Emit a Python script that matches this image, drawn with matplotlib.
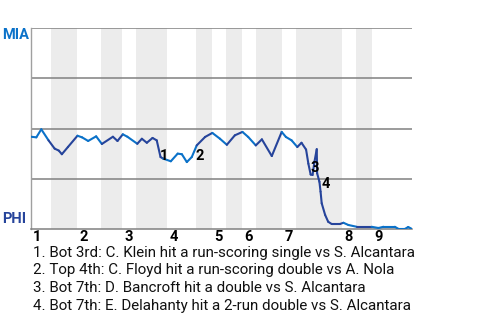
import matplotlib
matplotlib.use('Agg')
import matplotlib.pyplot as plt
import matplotlib.transforms as mtransforms

# game progress (0-100) and MIA win probability (%)
progress = [0, 1.4, 2.7, 4.6, 6.2, 7.3, 8.1, 9.7, 12.2, 13.4, 15.0, 17.1, 18.6, 21.5,
            22.7, 24.1, 25.3, 27.9, 29.1, 30.4, 31.9, 33.0, 34.0, 34.7, 36.7, 38.5,
            39.6, 40.9, 42.2, 43.5, 45.7, 47.6, 49.6, 51.4, 53.5, 55.5, 57.0, 59.0,
            60.6, 63.2, 65.8, 66.9, 68.4, 69.9, 71.0, 72.2, 72.8, 73.4, 73.9, 74.4,
            75.0, 75.1, 75.7, 76.0, 76.3, 77.2, 78.0, 78.9, 81.1, 82.0, 83.3, 85.5,
            89.4, 91.2, 92.5, 95.5, 96.4, 98.2, 99.0, 99.9]
mia_wp = [45.9, 45.6, 49.6, 44.1, 40.0, 39.0, 37.2, 40.8, 46.4, 45.6, 43.8, 46.1, 42.3, 45.9,
          43.8, 47.1, 45.9, 42.4, 44.9, 42.9, 45.3, 44.1, 35.8, 35.0, 33.7, 37.5,
          37.2, 33.3, 35.8, 41.6, 45.8, 47.8, 44.9, 41.9, 46.6, 48.3, 45.8, 41.6,
          44.6, 36.3, 48.3, 45.8, 44.1, 40.8, 42.9, 39.5, 32.5, 27.1, 26.9, 33.5,
          39.7, 27.7, 23.5, 18.6, 12.8, 7.0, 3.6, 2.5, 2.5, 3.1, 2.0, 1.1,
          1.1, 0.5, 1.1, 1.1, 0.1, 0.1, 1.0, 0.1]

# inning starts and bottom-half spans (in game progress)
inning_start = [0, 12.1, 23.9, 35.7, 47.5, 55.4, 65.9, 81.6, 89.5]
inning_labels = ['1', '2', '3', '4', '5', '6', '7', '8', '9']
bottom_halves = [(5.2, 12.1), (18.4, 23.9), (27.6, 35.7), (43.3, 47.5),
                 (51.2, 55.4), (59.1, 65.9), (69.6, 81.6), (85.3, 89.5)]

# key events
event_x = [34.9, 44.2, 74.4, 77.3]
event_y = [36.3, 36.3, 30.3, 22.5]
event_text = [
    '1. Bot 3rd: C. Klein hit a run-scoring single vs S. Alcantara',
    '2. Top 4th: C. Floyd hit a run-scoring double vs A. Nola',
    '3. Bot 7th: D. Bancroft hit a double vs S. Alcantara',
    '4. Bot 7th: E. Delahanty hit a 2-run double vs S. Alcantara',
]

mia_color = '#0b72c9'
phi_color = '#26449b'

plt.rcParams['font.family'] = ['Roboto', 'DejaVu Sans']

fig = plt.figure(figsize=(4.8, 3.2), dpi=100)
ax = fig.add_axes([31 / 480, 91 / 320, 381 / 480, 201 / 320])
ax.set_xlim(0, 100)
ax.set_ylim(0, 100)

# shaded bottom halves
for a, b in bottom_halves:
    ax.axvspan(a, b, color='#ececec', lw=0, zorder=0)

# gridlines
for g in [25, 50, 75, 100]:
    ax.axhline(g, color='#808080', lw=1.1, zorder=1)

for side in ['top', 'right']:
    ax.spines[side].set_visible(False)
ax.spines['left'].set_color('#a0a0a0')
ax.spines['left'].set_linewidth(1)
ax.spines['bottom'].set_color('#808080')
ax.spines['bottom'].set_linewidth(1.1)
ax.set_xticks([])
ax.set_yticks([])

# win probability line, coloured by half inning
def in_bottom(x):
    return any(a <= x < b for a, b in bottom_halves)

for i in range(len(progress) - 1):
    mid = (progress[i] + progress[i + 1]) / 2
    c = phi_color if in_bottom(mid) else mia_color
    ax.plot(progress[i:i + 2], mia_wp[i:i + 2], color=c, lw=1.5,
            solid_capstyle='round', zorder=3)

for k, (ex, ey) in enumerate(zip(event_x, event_y)):
    ax.text(ex, ey, str(k + 1), ha='center', va='center', fontsize=10.5,
            fontweight='bold', color='black', zorder=4)

# inning labels
trans = mtransforms.blended_transform_factory(ax.transData, fig.transFigure)
for s, lab in zip(inning_start, inning_labels):
    ax.text(s + 0.6, 1 - 237 / 320, lab, transform=trans, ha='left', va='center',
            fontsize=10.5, fontweight='bold', color='black')

# team labels
fig.text(2 / 480, 1 - 35 / 320, 'MIA', ha='left', va='center', fontsize=10.5,
         fontweight='bold', color=mia_color)
fig.text(2 / 480, 1 - 219 / 320, 'PHI', ha='left', va='center', fontsize=10.5,
         fontweight='bold', color=phi_color)

# event descriptions
for k, t in enumerate(event_text):
    fig.text(33 / 480, 1 - (252.5 + k * 17.9) / 320, t, ha='left', va='center',
             fontsize=10.9, color='#111111')

fig.savefig('out.png', dpi=100)
